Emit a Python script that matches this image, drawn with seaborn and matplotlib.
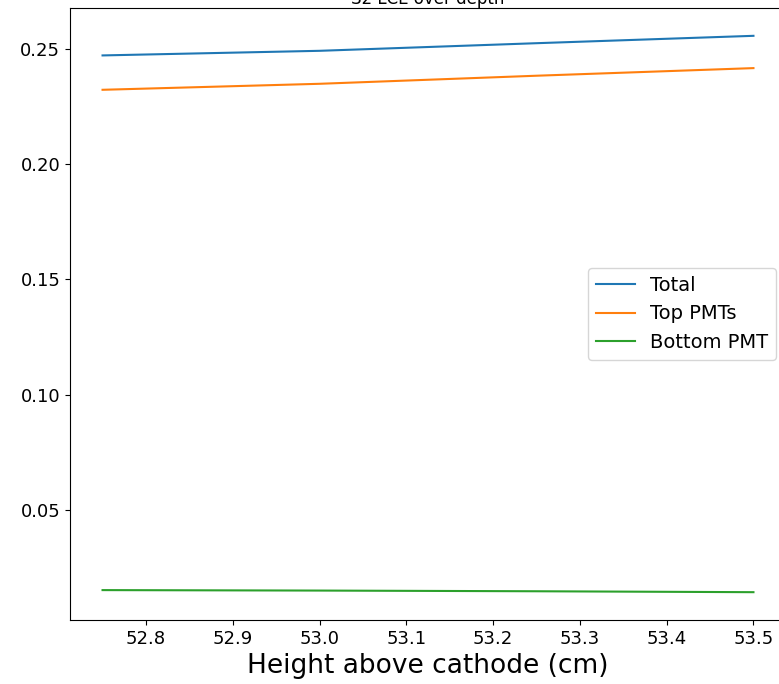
import pandas as pd
import matplotlib
matplotlib.use("Agg")
import matplotlib.pyplot as plt
import seaborn as sns

# LCE values
heights = [52.75, 53.0, 53.25, 53.5]
total = [0.2471, 0.2491, 0.2524, 0.2556]
top_pmts = [0.2322, 0.2348, 0.2383, 0.2416]
bottom_pmt = [0.0153, 0.0151, 0.0148, 0.0144]

df = pd.DataFrame({
    "height": heights * 3,
    "lce": total + top_pmts + bottom_pmt,
    "series": ["Total"] * 4 + ["Top PMTs"] * 4 + ["Bottom PMT"] * 4,
})

fig = plt.figure(figsize=(7.79, 6.84), dpi=100)
# axes run a little past the right edge, like the cropped original
ax = fig.add_axes([70 / 779, 64 / 684, 716 / 779, 612 / 684])

sns.lineplot(data=df, x="height", y="lce", hue="series",
             palette=["tab:blue", "tab:orange", "tab:green"],
             linewidth=1.5, ax=ax)

ax.set_title("S2 LCE over depth", fontsize=12, pad=2)
ax.set_xlabel("Height above cathode (cm)", fontsize=19)
ax.set_ylabel("")
ax.tick_params(labelsize=13)
ax.legend(loc="center right", fontsize=14)

fig.savefig("out.png", dpi=100)
